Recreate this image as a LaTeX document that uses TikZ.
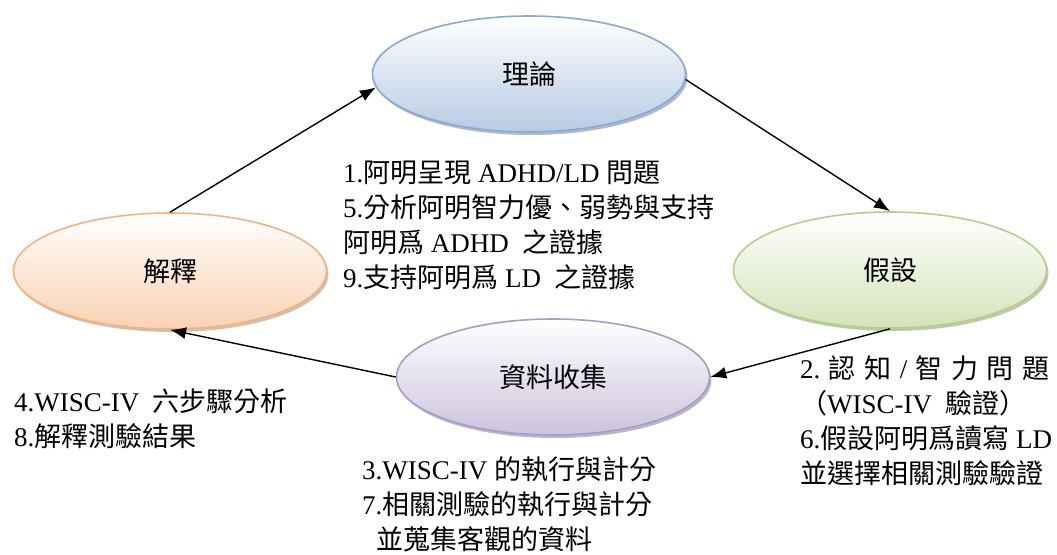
\documentclass[tikz,border=0pt]{standalone}
\usepackage{fontspec}
\setmainfont{Liberation Serif}
\newfontfamily\cjk{Noto Sans CJK TC}
\usepackage{tikz}
\usetikzlibrary{shapes.geometric,arrows.meta,shadows}
\definecolor{theoryfill}{HTML}{B7CBE4}
\definecolor{theoryline}{HTML}{8CA8D2}
\definecolor{hypofill}{HTML}{D5E3BA}
\definecolor{hypoline}{HTML}{B6CE8C}
\definecolor{interpfill}{HTML}{FAD2B3}
\definecolor{interpline}{HTML}{F2B384}
\definecolor{collectfill}{HTML}{CDC3DC}
\definecolor{collectline}{HTML}{A99CC8}

\begin{document}
\begin{tikzpicture}[x=1pt,y=-1pt,
  bubble/.style={ellipse,minimum width=313pt,minimum height=116pt,line width=1.6pt,
    top color=white,font=\cjk\fontsize{27}{30}\selectfont},
  conn/.style={line width=1.4pt,-{Latex[length=16pt,width=12pt]}},
  note/.style={align=left,inner sep=0pt,anchor=north west,font=\fontsize{27}{35}\selectfont}]

\newcommand\zh[1]{{\cjk #1}}
\newcommand\gap{\hspace{8.5pt}}
\useasboundingbox (0,0) rectangle (1057,554);

% the four stages of the cycle
\node[bubble,draw=theoryline,bottom color=theoryfill,
  drop shadow={shadow xshift=2pt,shadow yshift=-3pt,fill=theoryline!70!black,opacity=.5}]
  (theory) at (529,74) {理論};
\node[bubble,draw=hypoline,bottom color=hypofill,
  drop shadow={shadow xshift=2pt,shadow yshift=-3pt,fill=hypoline!70!black,opacity=.5}]
  (hypo) at (890,270) {假設};
\node[bubble,draw=collectline,bottom color=collectfill,
  drop shadow={shadow xshift=2pt,shadow yshift=-3pt,fill=collectline!70!black,opacity=.5}]
  (collect) at (553,377) {資料收集};
\node[bubble,draw=interpline,bottom color=interpfill,
  drop shadow={shadow xshift=2pt,shadow yshift=-3pt,fill=interpline!70!black,opacity=.5}]
  (interp) at (170,271) {解釋};

% arrows go round clockwise
\draw[conn] (interp.north) -- (theory.185);
\draw[conn] (theory.358) -- (hypo.north);
\draw[conn] (hypo.south) -- (collect.east);
\draw[conn] (collect.west) -- (interp.south);

% the steps written beside each stage
\node[note] (stepsA) at (343,161) {1.\zh{阿明呈現} ADHD/LD \zh{問題}\\
  5.\zh{分析阿明智力優、弱勢與支持}\\
  \zh{阿明爲} ADHD\ \ \zh{之證據}\\
  9.\zh{支持阿明爲} LD\ \ \zh{之證據}};
\node[note] (stepsB) at (800,356) {2.\gap\zh{認}\gap\zh{知}\gap/\gap\zh{智}\gap\zh{力}\gap\zh{問}\gap\zh{題}\\
  \zh{（}WISC-IV\ \ \zh{驗證）}\\
  6.\zh{假設阿明爲讀寫} LD\\
  \zh{並選擇相關測驗驗證}};
\node[note] (stepsC) at (14,389) {4.WISC-IV\ \ \zh{六步驟分析}\\
  8.\zh{解釋測驗結果}};
\node[note] (stepsD) at (362,457) {3.WISC-IV \zh{的執行與計分}\\
  7.\zh{相關測驗的執行與計分}\\
  \hspace*{14pt}\zh{並蒐集客觀的資料}};
\end{tikzpicture}
\end{document}
